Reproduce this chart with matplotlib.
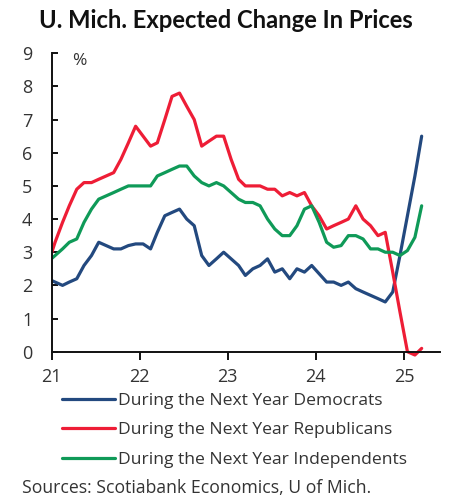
import matplotlib
matplotlib.use("Agg")
import matplotlib.pyplot as plt
from matplotlib.patches import Rectangle
import pandas as pd
import numpy as np

# Monthly data, Dec 2020 .. Mar 2025 (plotted mid-month)
start_month = "2020-12-01"
end_month = "2025-03-01"

democrats = [2.2, 2.1, 2.0, 2.1, 2.2, 2.6, 2.9, 3.3, 3.2, 3.1, 3.1, 3.2,
             3.25, 3.25, 3.1, 3.6, 4.1, 4.2, 4.3, 4.0, 3.8, 2.9, 2.6, 2.8,
             3.0, 2.8, 2.6, 2.3, 2.5, 2.6, 2.8, 2.4, 2.5, 2.2, 2.5, 2.4,
             2.6, 2.35, 2.1, 2.1, 2.0, 2.1, 1.9, 1.8, 1.7, 1.6, 1.5, 1.8,
             2.9, 4.1, 5.3, 6.5]
republicans = [2.6, 3.3, 3.9, 4.4, 4.9, 5.1, 5.1, 5.2, 5.3, 5.4, 5.8, 6.3,
               6.8, 6.5, 6.2, 6.3, 7.0, 7.7, 7.8, 7.4, 7.0, 6.2, 6.35, 6.5,
               6.5, 5.8, 5.2, 5.0, 5.0, 5.0, 4.9, 4.9, 4.7, 4.8, 4.7, 4.8,
               4.4, 4.1, 3.7, 3.8, 3.9, 4.0, 4.4, 4.0, 3.8, 3.5, 3.6, 2.4,
               1.2, 0.0, -0.1, 0.1]
independents = [2.7, 2.9, 3.1, 3.3, 3.4, 3.9, 4.3, 4.6, 4.7, 4.8, 4.9, 5.0,
                5.0, 5.0, 5.0, 5.3, 5.4, 5.5, 5.6, 5.6, 5.3, 5.1, 5.0, 5.1,
                5.0, 4.8, 4.6, 4.5, 4.5, 4.4, 4.0, 3.7, 3.5, 3.5, 3.8, 4.3,
                4.4, 3.9, 3.3, 3.15, 3.2, 3.5, 3.5, 3.4, 3.1, 3.1, 3.0, 3.0,
                2.9, 3.05, 3.45, 4.4]

series_labels = ["During the Next Year Democrats",
                 "During the Next Year Republicans",
                 "During the Next Year Independents"]
year_labels = ["21", "22", "23", "24", "25"]
y_ticks = list(range(0, 10))

title = "U. Mich. Expected Change In Prices"
source = "Sources: Scotiabank Economics, U of Mich."

colors = ["#23497f", "#ee1d36", "#0f9a58"]

dates = pd.date_range(start_month, end_month, freq="MS") + pd.Timedelta(days=14)

plt.rcParams["font.family"] = ["Open Sans", "DejaVu Sans"]
text_color = "#333333"

fig = plt.figure(figsize=(4.51, 4.98), dpi=100)
ax = fig.add_axes([0.1146, 0.2938, 0.9756 - 0.1146, 0.893 - 0.2938])

clip_rect = Rectangle((0, -0.05), 1, 1.1, transform=ax.transAxes,
                      facecolor="none", edgecolor="none")
ax.add_patch(clip_rect)

for vals, lab, col in zip([democrats, republicans, independents], series_labels, colors):
    ln, = ax.plot(dates, vals, color=col, lw=2.3, label=lab,
                  solid_joinstyle="round", solid_capstyle="round")
    ln.set_clip_path(clip_rect)

ax.set_ylim(0, 9)
ax.set_xlim(pd.Timestamp("2021-01-01"), pd.Timestamp("2025-05-30"))
ax.set_yticks(y_ticks)
ax.set_yticklabels([str(v) for v in y_ticks])
xt = [pd.Timestamp(f"20{y}-01-01") for y in year_labels]
ax.set_xticks(xt)
ax.set_xticklabels(year_labels)

for s in ["top", "right"]:
    ax.spines[s].set_visible(False)
for s in ["left", "bottom"]:
    ax.spines[s].set_linewidth(1.4)
    ax.spines[s].set_color("#111111")

ax.tick_params(axis="y", direction="in", length=4, width=1.4, pad=14,
               labelsize=13, labelcolor=text_color, color="#111111")
ax.tick_params(axis="x", direction="out", length=6, width=1.4, pad=6,
               labelsize=13, labelcolor=text_color, color="#111111")

ax.text(0.07, 0.975, "%", transform=ax.transAxes, fontsize=12.5,
        color=text_color, ha="center", va="center")

fig.text(0.5, 0.958, title, ha="center", va="center", fontsize=17.1,
         fontweight="bold", color="#111111", family=["Lato", "DejaVu Sans"])

leg = fig.legend(loc="upper left", bbox_to_anchor=(62 / 451, 1 - 393 / 498),
                 frameon=False, fontsize=12.6, handlelength=3.0,
                 handletextpad=0.2, labelspacing=0.74, borderpad=0,
                 borderaxespad=0)
for t in leg.get_texts():
    t.set_color(text_color)

fig.text(22 / 451, 1 - 488 / 498, source, ha="left", va="center",
         fontsize=12.7, color=text_color)

fig.savefig("out.png", dpi=100)
